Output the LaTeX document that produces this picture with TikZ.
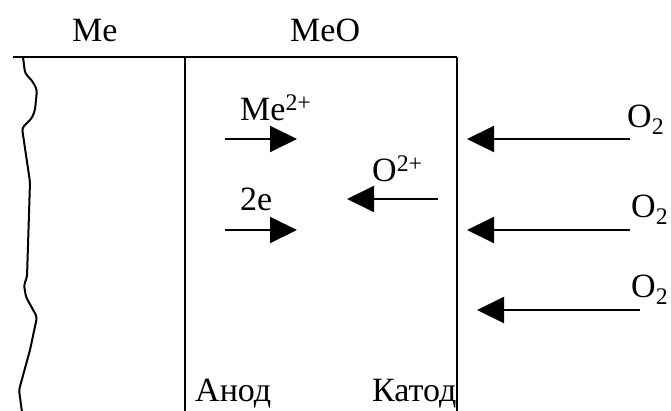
\documentclass[tikz,border=0pt]{standalone}
\usepackage{fontspec}
\setmainfont{Liberation Serif}
\usetikzlibrary{arrows.meta}
\begin{document}
\begin{tikzpicture}[x=1pt,y=-1pt,
  lbl/.style={inner sep=0pt,anchor=base west,font=\fontsize{34}{40}\selectfont},
  ln/.style={line width=2pt},
  arr/.style={line width=2pt,-{Triangle[length=27pt,width=26pt]}}]
\useasboundingbox (0,0) rectangle (671,410);
% frame
\coordinate (tl) at (13,57);
\coordinate (tm) at (185,57);
\coordinate (tr) at (457,57);
\coordinate (bm) at (185,412);
\coordinate (br) at (457,412);
\draw[ln] (tl) -- (tr);
\draw[ln] (tm) -- (bm);
\draw[ln] (tr) -- (br);
% wavy metal surface
\draw[ln,rounded corners=3pt] (23,57) -- (25,73) -- (33,82) -- (37,90) -- (35,110) -- (32,118) -- (22,128)
  -- (30,182) -- (27,277) -- (24,285) -- (26,297) -- (37,317) -- (30,350) -- (19,390) -- (22,412);
% top labels
\node[lbl] (me) at (72,41) {Me};
\node[lbl] (meo) at (290,41) {MeO};
% bottom labels
\node[lbl] (anod) at (195,401) {Анод};
\node[lbl] (katod) at (372,401) {Катод};
% inner arrows
\node[lbl] (mei) at (240,120) {Me\textsuperscript{2+}};
\node[lbl] (el) at (240,210) {2e};
\node[lbl] (oion) at (372,181) {O\textsuperscript{2+}};
\coordinate (a1s) at (225,139); \coordinate (a1e) at (297,139);
\coordinate (a2s) at (225,230); \coordinate (a2e) at (297,230);
\coordinate (a3s) at (438,199); \coordinate (a3e) at (347,199);
\draw[arr] (a1s) -- (a1e);
\draw[arr] (a2s) -- (a2e);
\draw[arr] (a3s) -- (a3e);
% oxygen arrows
\node[lbl] (o1) at (627,127) {O\textsubscript{2}};
\node[lbl] (o2) at (631,217) {O\textsubscript{2}};
\node[lbl] (o3) at (631,297) {O\textsubscript{2}};
\coordinate (b1s) at (630,139); \coordinate (b1e) at (467,139);
\coordinate (b2s) at (630,230); \coordinate (b2e) at (467,230);
\coordinate (b3s) at (640,310); \coordinate (b3e) at (477,310);
\draw[arr] (b1s) -- (b1e);
\draw[arr] (b2s) -- (b2e);
\draw[arr] (b3s) -- (b3e);
\end{tikzpicture}
\end{document}
